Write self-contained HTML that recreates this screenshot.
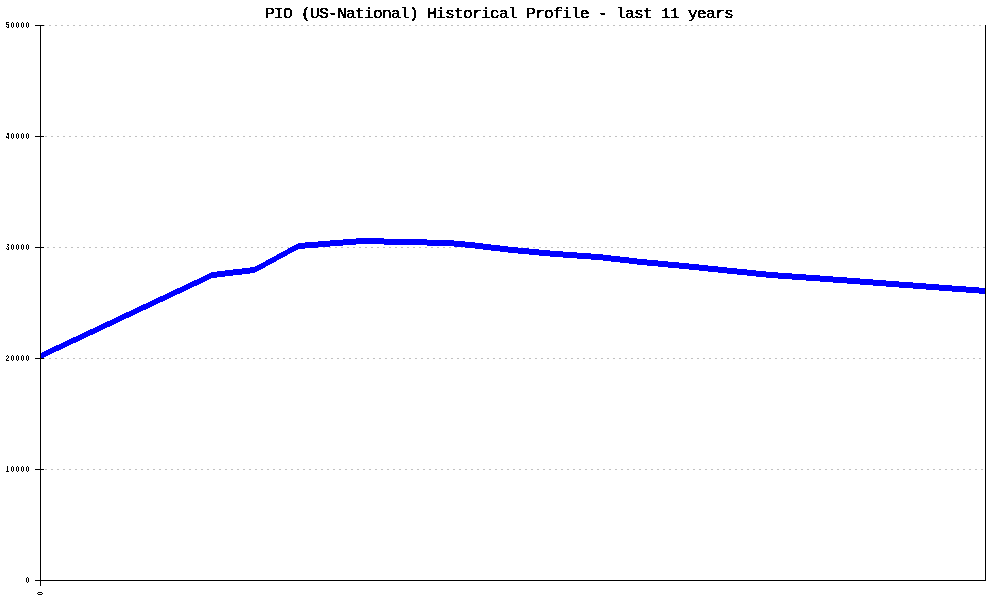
<!DOCTYPE html>
<html lang="en">
<head>
<meta charset="utf-8">
<title>PIO (US-National) Historical Profile - last 11 years</title>
<style>
html,body{margin:0;padding:0;background:#fff;}
body{width:1000px;height:600px;overflow:hidden;position:relative;}
svg{position:absolute;left:0;top:0;display:block;}
.title{font-family:"Liberation Mono","DejaVu Sans Mono",monospace;font-weight:normal;font-size:15px;fill:#000;stroke:#000;stroke-width:0.42px;letter-spacing:-0.6667px;}
.lab text{font-family:"Liberation Sans","DejaVu Sans",sans-serif;font-weight:bold;font-size:8.4px;letter-spacing:2px;fill:#000;}
.grid line{stroke:#c0c0c0;stroke-width:1;stroke-dasharray:2 4;}
</style>
</head>
<body>
<svg width="1000" height="600" viewBox="0 0 1000 600">
<defs>
<filter id="crisp" x="0" y="0" width="1000" height="600" filterUnits="userSpaceOnUse" color-interpolation-filters="sRGB">
<feComponentTransfer><feFuncA type="discrete" tableValues="0 1"/></feComponentTransfer>
</filter>
</defs>
<rect width="1000" height="600" fill="#fff"/>
<g class="grid" shape-rendering="crispEdges">
<line x1="43" y1="25.5" x2="985" y2="25.5"/>
<line x1="45" y1="136.5" x2="985" y2="136.5"/>
<line x1="47" y1="247.5" x2="985" y2="247.5"/>
<line x1="43" y1="358.5" x2="985" y2="358.5"/>
<line x1="45" y1="469.5" x2="985" y2="469.5"/>
</g>
<polygon shape-rendering="crispEdges" fill="#0000ff" points="40,353.45 42,352.5 44,351.5 46,350.5 48,349.5 50,348.5 52,347.5 54,346.5 56,345.5 59,344.5 61,343.5 63,342.5 65,341.5 67,340.5 69,339.5 71,338.5 73,337.5 76,336.5 78,335.5 80,334.5 82,333.5 84,332.5 86,331.5 88,330.5 90,329.5 93,328.5 95,327.5 97,326.5 99,325.5 101,324.5 103,323.5 105,322.5 107,321.5 110,320.5 112,319.5 114,318.5 116,317.5 118,316.5 120,315.5 122,314.5 124,313.5 126,312.5 129,311.5 131,310.5 133,309.5 135,308.5 137,307.5 139,306.5 141,305.5 143,304.5 146,303.5 148,302.5 150,301.5 152,300.5 154,299.5 156,298.5 158,297.5 160,296.5 163,295.5 165,294.5 167,293.5 169,292.5 171,291.5 173,290.5 175,289.5 177,288.5 180,287.5 182,286.5 184,285.5 186,284.5 188,283.5 190,282.5 192,281.5 194,280.5 197,279.5 199,278.5 201,277.5 203,276.5 205,275.5 207,274.5 209,273.5 211,272.5 212,272 217,271.5 225,270.5 233,269.5 242,268.5 250,267.5 255,266.5 257,265.5 259,264.5 261,263.5 263,262.5 265,261.5 266,260.5 268,259.5 270,258.5 272,257.5 274,256.5 276,255.5 277,254.5 279,253.5 281,252.5 283,251.5 285,250.5 287,249.5 288,248.5 290,247.5 292,246.5 294,245.5 296,244.5 298,243.5 305,242.5 317.8,241.5 330.2,240.5 343.2,239.5 356,238.5 362,238.03 383.8,238.5 426.8,239.5 453.7,240.5 465,241.5 475,242.5 483,243.5 491,244.5 499.8,245.5 508.2,246.5 518.2,247.5 529,248.5 539,249.5 550.2,250.5 563,251.5 577,252.5 591,253.5 603,254.5 611,255.5 620,256.5 629,257.5 637,258.5 647,259.5 658,260.5 668.2,261.5 679,262.5 689,263.5 699,264.5 708,265.5 718,266.5 727,267.5 737,268.5 747,269.5 756,270.5 766.2,271.5 778.2,272.5 792,273.5 806,274.5 820,275.5 833,276.5 847,277.5 860,278.5 873,279.5 886,280.5 899,281.5 913,282.5 926,283.5 939,284.5 952,285.5 966,286.5 979,287.5 986,288.03 986,294.03 979,293.5 966,292.5 952,291.5 939,290.5 926,289.5 913,288.5 899,287.5 886,286.5 873,285.5 860,284.5 847,283.5 833,282.5 820,281.5 806,280.5 792,279.5 778.2,278.5 766.2,277.5 756,276.5 747,275.5 737,274.5 727,273.5 718,272.5 708,271.5 699,270.5 689,269.5 679,268.5 668.2,267.5 658,266.5 647,265.5 637,264.5 629,263.5 620,262.5 611,261.5 603,260.5 591,259.5 577,258.5 563,257.5 550.2,256.5 539,255.5 529,254.5 518.2,253.5 508.2,252.5 499.8,251.5 491,250.5 483,249.5 475,248.5 465,247.5 453.7,246.5 426.8,245.5 383.8,244.5 362,244.03 356,244.5 343.2,245.5 330.2,246.5 317.8,247.5 305,248.5 298,249.5 296,250.5 294,251.5 292,252.5 290,253.5 288,254.5 287,255.5 285,256.5 283,257.5 281,258.5 279,259.5 277,260.5 276,261.5 274,262.5 272,263.5 270,264.5 268,265.5 266,266.5 265,267.5 263,268.5 261,269.5 259,270.5 257,271.5 255,272.5 250,273.5 242,274.5 233,275.5 225,276.5 217,277.5 212,278 211,278.5 209,279.5 207,280.5 205,281.5 203,282.5 201,283.5 199,284.5 197,285.5 194,286.5 192,287.5 190,288.5 188,289.5 186,290.5 184,291.5 182,292.5 180,293.5 177,294.5 175,295.5 173,296.5 171,297.5 169,298.5 167,299.5 165,300.5 163,301.5 160,302.5 158,303.5 156,304.5 154,305.5 152,306.5 150,307.5 148,308.5 146,309.5 143,310.5 141,311.5 139,312.5 137,313.5 135,314.5 133,315.5 131,316.5 129,317.5 126,318.5 124,319.5 122,320.5 120,321.5 118,322.5 116,323.5 114,324.5 112,325.5 110,326.5 107,327.5 105,328.5 103,329.5 101,330.5 99,331.5 97,332.5 95,333.5 93,334.5 90,335.5 88,336.5 86,337.5 84,338.5 82,339.5 80,340.5 78,341.5 76,342.5 73,343.5 71,344.5 69,345.5 67,346.5 65,347.5 63,348.5 61,349.5 59,350.5 56,351.5 54,352.5 52,353.5 50,354.5 48,355.5 46,356.5 44,357.5 42,358.5 40,359.45"/>
<g fill="#000" shape-rendering="crispEdges">
<rect x="40" y="25" width="1" height="561"/>
<rect x="985" y="25" width="1" height="556"/>
<rect x="35" y="580" width="951" height="1"/>
<rect x="35" y="25" width="9" height="1"/>
<rect x="35" y="136" width="9" height="1"/>
<rect x="35" y="247" width="9" height="1"/>
<rect x="35" y="358" width="9" height="1"/>
<rect x="35" y="469" width="9" height="1"/>
<rect x="35" y="580" width="9" height="1"/>
</g>
<g filter="url(#crisp)">
<text class="title" transform="translate(265.1,18) scale(1.08,1)" xml:space="preserve">PIO (US-National) Historical Profile - last 11 years</text>
</g>
<g class="lab" filter="url(#crisp)">
<text transform="translate(30.8,28) scale(0.75,1)" text-anchor="end">50000</text>
<text transform="translate(30.8,139) scale(0.75,1)" text-anchor="end">40000</text>
<text transform="translate(30.8,250) scale(0.75,1)" text-anchor="end">30000</text>
<text transform="translate(30.8,361) scale(0.75,1)" text-anchor="end">20000</text>
<text transform="translate(30.8,472) scale(0.75,1)" text-anchor="end">10000</text>
<text transform="translate(30.8,583) scale(0.75,1)" text-anchor="end">0</text>
<text transform="translate(43,595.25) rotate(-90) scale(0.75,1)">0</text>
</g>
</svg>
</body>
</html>
